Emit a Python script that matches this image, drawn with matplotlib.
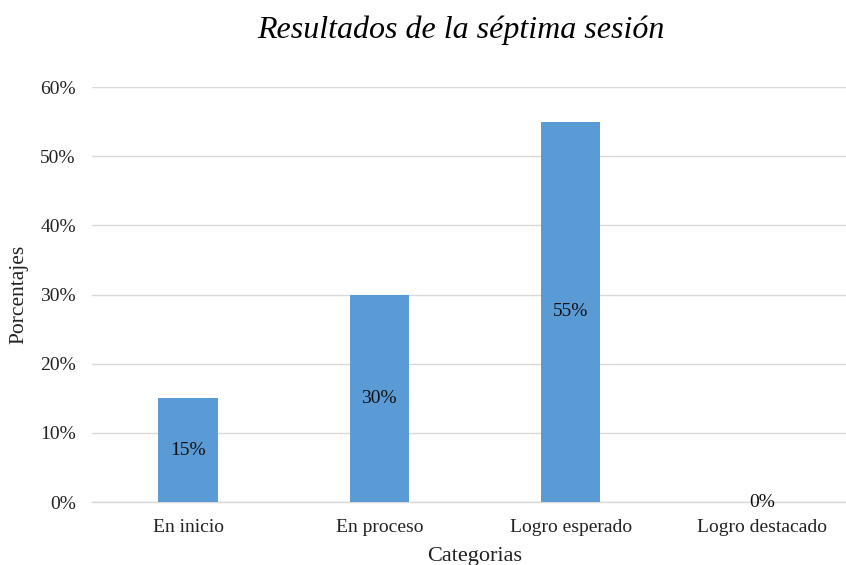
import matplotlib.pyplot as plt
from matplotlib.ticker import PercentFormatter

categorias = ['En inicio', 'En proceso', 'Logro esperado', 'Logro destacado']
porcentajes = [0.15, 0.30, 0.55, 0.0]
etiquetas = ['15%', '30%', '55%', '0%']

plt.rcParams['font.family'] = ['Liberation Serif', 'DejaVu Serif']

fig = plt.figure(figsize=(8.46, 5.65), dpi=100)
ax = fig.add_axes([0.1093, 0.1115, 0.9043, 0.7345])

x = range(len(categorias))
barras = ax.bar(x, porcentajes, width=0.31, color='#5B9BD5', zorder=3)

# etiquetas en el centro de cada barra
for b, txt in zip(barras, etiquetas):
    ax.text(b.get_x() + b.get_width() / 2, b.get_height() / 2, txt,
            ha='center', va='center', fontsize=14, color='#111111', zorder=4)

ax.set_xlim(-0.5, 3.5)
ax.set_ylim(0, 0.6)
ax.set_yticks([0, 0.1, 0.2, 0.3, 0.4, 0.5, 0.6])
ax.yaxis.set_major_formatter(PercentFormatter(1.0, decimals=0))
ax.set_xticks(list(x))
ax.set_xticklabels(categorias)
ax.tick_params(length=0, labelsize=14, labelcolor='#222222')
ax.tick_params(axis='y', pad=12)
ax.tick_params(axis='x', pad=12)

ax.grid(axis='y', color='#D9D9D9', linewidth=1, zorder=0)
ax.axhline(0, color='#D9D9D9', linewidth=1, zorder=1, clip_on=False)
for s in ax.spines.values():
    s.set_visible(False)

ax.set_xlabel('Categorias', fontsize=16, labelpad=8, color='#222222')
ax.set_ylabel('Porcentajes', fontsize=15.5, color='#222222')
ax.yaxis.set_label_coords(-0.084, 0.5)

fig.text(0.545, 0.947, 'Resultados de la séptima sesión', ha='center', va='center',
         fontsize=23, style='italic')

fig.savefig('out.png', dpi=100)
